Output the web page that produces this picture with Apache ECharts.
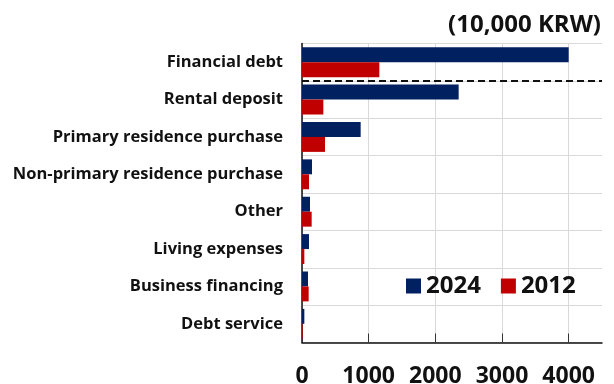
<!DOCTYPE html>
<html>
<head>
<meta charset="utf-8">
<script src="https://cdn.jsdelivr.net/npm/echarts@6/dist/echarts.min.js"></script>
<style>
  html, body { margin: 0; padding: 0; background: #fff; }
  #chart { width: 614px; height: 384px; }
</style>
</head>
<body>
<div id="chart"></div>
<script>
// Household debt by purpose (10,000 KRW)
const categories = [
  'Financial debt',
  'Rental deposit',
  'Primary residence purchase',
  'Non-primary residence purchase',
  'Other',
  'Living expenses',
  'Business financing',
  'Debt service'
];
const values2024 = [4000, 2350, 880, 150, 120, 105, 90, 35];
const values2012 = [1160, 320, 345, 105, 145, 35, 100, 10];
const xTicks = [0, 1000, 2000, 3000, 4000];
const unitLabel = '(10,000 KRW)';

const FONT = "'Open Sans', 'Noto Sans', sans-serif";
const chart = echarts.init(document.getElementById('chart'));

chart.setOption({
  animation: false,
  textStyle: { fontFamily: FONT },
  title: {
    text: unitLabel,
    right: 8,
    top: 8,
    textStyle: { fontFamily: FONT, fontWeight: 'bold', fontSize: 24, color: '#111' }
  },
  legend: {
    left: 401,
    top: 269,
    itemWidth: 15,
    itemHeight: 15,
    itemGap: 20,
    icon: 'rect',
    textStyle: { fontFamily: FONT, fontWeight: 'bold', fontSize: 24, color: '#111' },
    data: ['2024', '2012']
  },
  grid: {
    left: 302, right: 12, top: 43.5, bottom: 41.5,
    containLabel: false,
    outerBoundsMode: 'none'
  },
  xAxis: {
    type: 'value',
    min: 0,
    max: 4500,
    interval: 1000,
    axisLine: { show: true, lineStyle: { color: '#111', width: 1.5 } },
    axisTick: { show: true, inside: true, length: 9, customValues: xTicks, lineStyle: { color: '#333' } },
    axisLabel: {
      customValues: xTicks,
      formatter: v => String(v),
      margin: 22,
      fontFamily: FONT, fontWeight: 'bold', fontSize: 23, color: '#111'
    },
    splitLine: { show: true, lineStyle: { color: '#d9d9d9', width: 1 } }
  },
  yAxis: {
    type: 'category',
    inverse: true,
    data: categories,
    axisLine: { show: true, lineStyle: { color: '#111', width: 1.5 } },
    axisTick: { show: false },
    axisLabel: { margin: 19, fontFamily: FONT, fontWeight: 'bold', fontSize: 16.5, color: '#111' },
    splitLine: { show: true, lineStyle: { color: '#d9d9d9', width: 1 } }
  },
  series: [
    {
      name: '2024',
      type: 'bar',
      data: values2024,
      itemStyle: { color: '#002060' },
      barGap: '0%',
      barCategoryGap: '20%'
    },
    {
      name: '2012',
      type: 'bar',
      data: values2012,
      itemStyle: { color: '#c00000' },
      barGap: '0%',
      barCategoryGap: '20%'
    }
  ]
});

// Dashed separator between the total (Financial debt) and its breakdown
const yA = chart.convertToPixel({ yAxisIndex: 0 }, categories[0]);
const yB = chart.convertToPixel({ yAxisIndex: 0 }, categories[1]);
const x0 = chart.convertToPixel({ xAxisIndex: 0 }, 0);
const x1 = chart.convertToPixel({ xAxisIndex: 0 }, 4500);
const ySep = (yA + yB) / 2;
chart.setOption({
  graphic: [{
    type: 'line',
    shape: { x1: x0, y1: ySep, x2: x1, y2: ySep },
    style: { stroke: '#111', lineWidth: 2, lineDash: [7, 4] },
    z: 10
  }]
});
</script>
</body>
</html>
